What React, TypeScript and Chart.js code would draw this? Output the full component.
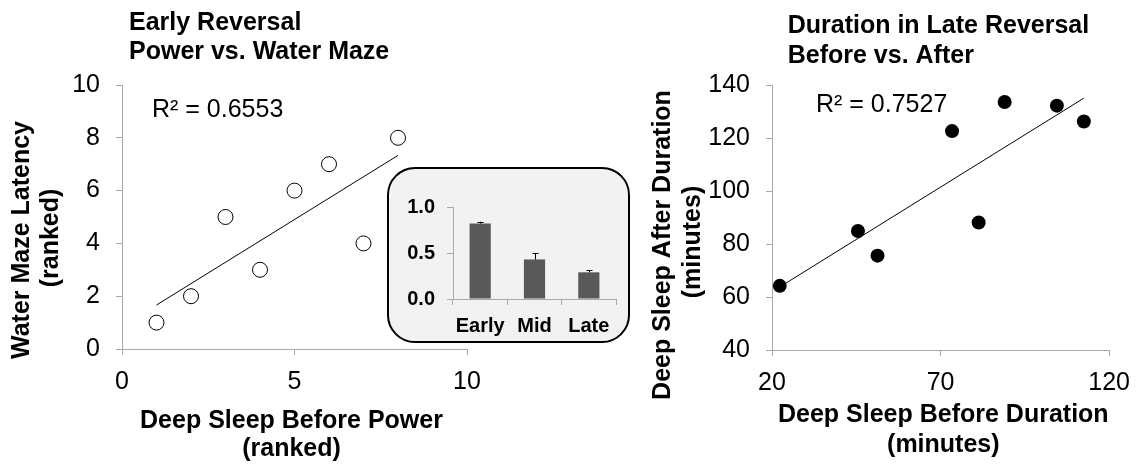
import React, { useEffect, useRef } from "react";
import { Chart, registerables } from "chart.js";

Chart.register(...registerables);

const FONT = "'Liberation Sans', Arial, Helvetica, sans-serif";
const AXIS = "#a9a9a9";

// ---- Left chart: Early Reversal, Power vs. Water Maze (ranked) ----
const powerRank = [1, 2, 3, 4, 5, 6, 7, 8];
const latencyRank = [1, 2, 5, 3, 6, 7, 4, 8];
const leftR2 = "R² = 0.6553";
const leftTitle = ["Early Reversal", "Power vs. Water Maze"];
const leftYTitle = ["Water Maze Latency", "(ranked)"];
const leftXTitle = ["Deep Sleep Before Power", "(ranked)"];

// ---- Inset bar chart ----
const phases = ["Early", "Mid", "Late"];
const phaseValues = [0.82, 0.43, 0.29];
const phaseErrors = [0.02, 0.07, 0.02];

// ---- Right chart: Duration in Late Reversal, Before vs. After ----
const beforeMinutes = [22.3, 45.5, 51.3, 73.4, 81.3, 89.0, 104.5, 112.5];
const afterMinutes = [64.2, 84.9, 75.6, 122.6, 88.1, 133.6, 132.2, 126.2];
const rightR2 = "R² = 0.7527";
const rightTitle = ["Duration in Late Reversal", "Before vs. After"];
const rightYTitle = ["Deep Sleep After Duration", "(minutes)"];
const rightXTitle = ["Deep Sleep Before Duration", "(minutes)"];

function trendPoints(xs: number[], ys: number[]) {
  const n = xs.length;
  const mx = xs.reduce((a, b) => a + b, 0) / n;
  const my = ys.reduce((a, b) => a + b, 0) / n;
  let sxy = 0;
  let sxx = 0;
  for (let i = 0; i < n; i++) {
    sxy += (xs[i] - mx) * (ys[i] - my);
    sxx += (xs[i] - mx) * (xs[i] - mx);
  }
  const slope = sxy / sxx;
  const icpt = my - slope * mx;
  const x0 = Math.min(...xs);
  const x1 = Math.max(...xs);
  return [
    { x: x0, y: icpt + slope * x0 },
    { x: x1, y: icpt + slope * x1 },
  ];
}

type TextItem = {
  text: string;
  x: number;
  y: number;
  font: string;
  align?: CanvasTextAlign;
  rotate?: boolean;
};

function textPlugin(id: string, items: TextItem[]) {
  return {
    id,
    afterDraw(chart: any) {
      const ctx = chart.ctx as CanvasRenderingContext2D;
      ctx.save();
      ctx.fillStyle = "#000";
      ctx.textBaseline = "alphabetic";
      for (const t of items) {
        ctx.font = t.font;
        if (t.rotate) {
          ctx.save();
          ctx.translate(t.x, t.y);
          ctx.rotate(-Math.PI / 2);
          ctx.textAlign = "center";
          ctx.fillText(t.text, 0, 0);
          ctx.restore();
        } else {
          ctx.textAlign = t.align || "left";
          ctx.fillText(t.text, t.x, t.y);
        }
      }
      ctx.restore();
    },
  };
}

const errorBarPlugin = {
  id: "errorBars",
  afterDatasetsDraw(chart: any) {
    const ctx = chart.ctx as CanvasRenderingContext2D;
    const meta = chart.getDatasetMeta(0);
    const yScale = chart.scales.y;
    ctx.save();
    ctx.strokeStyle = "#000";
    ctx.lineWidth = 1;
    meta.data.forEach((bar: any, i: number) => {
      const top = yScale.getPixelForValue(phaseValues[i] + phaseErrors[i]);
      const x = Math.round(bar.x) + 0.5;
      ctx.beginPath();
      ctx.moveTo(x, bar.y);
      ctx.lineTo(x, top);
      ctx.moveTo(x - 3, Math.round(top) + 0.5);
      ctx.lineTo(x + 3, Math.round(top) + 0.5);
      ctx.stroke();
    });
    ctx.restore();
  },
};

const bold25 = `bold 25px ${FONT}`;
const reg25 = `25px ${FONT}`;

function axisCommon(extra: any) {
  return {
    type: "linear",
    grid: {
      drawOnChartArea: false,
      drawTicks: true,
      tickLength: 6,
      color: AXIS,
      lineWidth: 1,
    },
    border: { display: true, color: AXIS, width: 1 },
    ...extra,
  };
}

export default function App() {
  const leftRef = useRef<HTMLCanvasElement>(null);
  const rightRef = useRef<HTMLCanvasElement>(null);
  const insetRef = useRef<HTMLCanvasElement>(null);

  useEffect(() => {
    const charts: Chart[] = [];

    // Left scatter
    const leftItems: TextItem[] = [
      { text: leftTitle[0], x: 129, y: 29.5, font: bold25 },
      { text: leftTitle[1], x: 129, y: 59, font: bold25 },
      { text: leftR2, x: 152, y: 117, font: reg25 },
      { text: leftYTitle[0], x: 29, y: 240, font: bold25, rotate: true },
      { text: leftYTitle[1], x: 58, y: 238, font: bold25, rotate: true },
      { text: leftXTitle[0], x: 291.5, y: 428, font: bold25, align: "center" },
      { text: leftXTitle[1], x: 291.5, y: 456, font: bold25, align: "center" },
    ];
    charts.push(
      new Chart(leftRef.current!, {
        type: "scatter",
        data: {
          datasets: [
            {
              data: powerRank.map((x, i) => ({ x, y: latencyRank[i] })),
              pointRadius: 7.5,
              pointBackgroundColor: "#fff",
              pointBorderColor: "#000",
              pointBorderWidth: 1,
              order: 0,
            },
            {
              type: "line",
              data: trendPoints(powerRank, latencyRank),
              borderColor: "#000",
              borderWidth: 1,
              pointRadius: 0,
              showLine: true,
              fill: false,
              order: 1,
            } as any,
          ],
        },
        options: {
          responsive: false,
          animation: false,
          events: [],
          devicePixelRatio: 1,
          layout: { padding: { left: 0, top: 85, right: 93, bottom: 0 } },
          plugins: { legend: { display: false }, tooltip: { enabled: false } },
          scales: {
            x: axisCommon({
              min: 0,
              max: 10,
              ticks: { stepSize: 5, color: "#000", font: { family: FONT, size: 25 }, padding: 12 },
              afterFit: (s: any) => {
                s.height = 117;
              },
            }),
            y: axisCommon({
              min: 0,
              max: 10,
              ticks: { stepSize: 2, color: "#000", font: { family: FONT, size: 25 }, padding: 16 },
              afterFit: (s: any) => {
                s.width = 122;
              },
            }),
          },
        } as any,
        plugins: [textPlugin("leftText", leftItems)],
      } as any)
    );

    // Right scatter
    const rightItems: TextItem[] = [
      { text: rightTitle[0], x: 187.7, y: 33, font: bold25 },
      { text: rightTitle[1], x: 187.7, y: 63, font: bold25 },
      { text: rightR2, x: 216, y: 111.7, font: reg25 },
      { text: rightYTitle[0], x: 69.5, y: 245, font: bold25, rotate: true },
      { text: rightYTitle[1], x: 100, y: 242, font: bold25, rotate: true },
      { text: rightXTitle[0], x: 343.3, y: 422, font: bold25, align: "center" },
      { text: rightXTitle[1], x: 343.3, y: 452, font: bold25, align: "center" },
    ];
    charts.push(
      new Chart(rightRef.current!, {
        type: "scatter",
        data: {
          datasets: [
            {
              data: beforeMinutes.map((x, i) => ({ x, y: afterMinutes[i] })),
              pointRadius: 7,
              pointBackgroundColor: "#000",
              pointBorderColor: "#000",
              pointBorderWidth: 0,
              order: 0,
            },
            {
              type: "line",
              data: trendPoints(beforeMinutes, afterMinutes),
              borderColor: "#000",
              borderWidth: 1,
              pointRadius: 0,
              showLine: true,
              fill: false,
              order: 1,
            } as any,
          ],
        },
        options: {
          responsive: false,
          animation: false,
          events: [],
          devicePixelRatio: 1,
          layout: { padding: { left: 0, top: 85, right: 32, bottom: 0 } },
          plugins: { legend: { display: false }, tooltip: { enabled: false } },
          scales: {
            x: axisCommon({
              min: 20,
              max: 120,
              ticks: { stepSize: 50, color: "#000", font: { family: FONT, size: 25 }, padding: 12 },
              afterFit: (s: any) => {
                s.height = 116;
              },
            }),
            y: axisCommon({
              min: 40,
              max: 140,
              ticks: { stepSize: 20, color: "#000", font: { family: FONT, size: 25 }, padding: 16 },
              afterFit: (s: any) => {
                s.width = 172;
              },
            }),
          },
        } as any,
        plugins: [textPlugin("rightText", rightItems)],
      } as any)
    );

    // Inset bar chart
    charts.push(
      new Chart(insetRef.current!, {
        type: "bar",
        data: {
          labels: phases,
          datasets: [
            {
              data: phaseValues,
              backgroundColor: "#595959",
              borderWidth: 0,
              barPercentage: 0.39,
              categoryPercentage: 1,
            },
          ],
        },
        options: {
          responsive: false,
          animation: false,
          events: [],
          devicePixelRatio: 1,
          layout: { padding: { left: 0, top: 40, right: 14, bottom: 0 } },
          plugins: { legend: { display: false }, tooltip: { enabled: false } },
          scales: {
            x: {
              type: "category",
              grid: { drawOnChartArea: false, drawTicks: true, tickLength: 6, color: AXIS, offset: true },
              border: { display: true, color: AXIS, width: 1 },
              ticks: {
                color: "#000",
                font: { family: FONT, size: 20, weight: "bold" },
                padding: 9,
                maxRotation: 0,
                minRotation: 0,
                autoSkip: false,
              },
              afterFit: (s: any) => {
                s.height = 44;
              },
            },
            y: {
              type: "linear",
              min: 0,
              max: 1,
              grid: { drawOnChartArea: false, drawTicks: true, tickLength: 6, color: AXIS },
              border: { display: true, color: AXIS, width: 1 },
              ticks: {
                stepSize: 0.5,
                color: "#000",
                font: { family: FONT, size: 20, weight: "bold" },
                padding: 12,
                callback: (v: any) => Number(v).toFixed(1),
              },
              afterFit: (s: any) => {
                s.width = 66;
              },
            },
          },
        } as any,
        plugins: [errorBarPlugin],
      } as any)
    );

    return () => {
      charts.forEach((c) => c.destroy());
    };
  }, []);

  return (
    <div
      style={{
        position: "fixed",
        left: 0,
        top: 0,
        width: 1142,
        height: 466,
        background: "#fff",
        overflow: "hidden",
      }}
    >
      <canvas ref={leftRef} width={560} height={466} style={{ position: "absolute", left: 0, top: 0, width: 560, height: 466 }} />
      <canvas ref={rightRef} width={542} height={466} style={{ position: "absolute", left: 600, top: 0, width: 542, height: 466 }} />
      <div
        style={{
          position: "absolute",
          left: 387,
          top: 167,
          width: 243,
          height: 176,
          boxSizing: "border-box",
          border: "2px solid #000",
          borderRadius: 28,
          background: "#f2f2f2",
        }}
      />
      <canvas ref={insetRef} width={243} height={176} style={{ position: "absolute", left: 387, top: 167, width: 243, height: 176 }} />
    </div>
  );
}
